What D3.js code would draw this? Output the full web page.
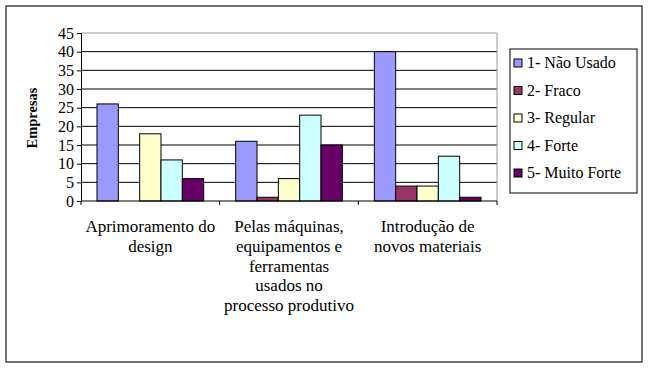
<!DOCTYPE html>
<html><head><meta charset="utf-8">
<script src="https://cdn.jsdelivr.net/npm/d3@7"></script>
</head><body style="margin:0"><svg id="c" width="650" height="370"></svg>
<script>
const categories = [["Aprimoramento do","design"],["Pelas máquinas,","equipamentos e","ferramentas","usados no","processo produtivo"],["Introdução de","novos materiais"]];
const seriesNames = ["1- Não Usado","2- Fraco","3- Regular","4- Forte","5- Muito Forte"];
const seriesColors = ["#9999FF","#993366","#FFFFCC","#CCFFFF","#660066"];
const naoUsado = [26,16,40];
const fraco = [0,1,4];
const regular = [18,6,4];
const forte = [11,23,12];
const muitoForte = [6,15,1];
const values = [naoUsado,fraco,regular,forte,muitoForte];
const yTicks = [0,5,10,15,20,25,30,35,40,45];
const yLabel = "Empresas";

const svg = d3.select("#c");
svg.append("rect").attr("x",6).attr("y",6).attr("width",636).attr("height",356).attr("fill","#fff").attr("stroke","#444").attr("stroke-width",1.5);

const L=81,R=497,T=33,B=201;
const x0 = d3.scaleBand().domain(d3.range(categories.length)).range([L,R]).paddingInner(0).paddingOuter(0);
const x1 = d3.scaleBand().domain(d3.range(seriesNames.length)).range([0,x0.bandwidth()]).paddingInner(0).paddingOuter(0.75);
const y = d3.scaleLinear().domain([0,45]).range([B,T]);

svg.append("g").selectAll("line").data(yTicks.filter(t=>t>0 && t<45)).join("line")
 .attr("x1",L).attr("x2",R).attr("y1",d=>y(d)).attr("y2",d=>y(d)).attr("stroke","#000").attr("stroke-width",1);
svg.append("path").attr("d",`M${L},${y(45)}H${R}V${B}`).attr("fill","none").attr("stroke","#999").attr("stroke-width",1);

const g = svg.append("g");
values.forEach((arr,si)=>{
  g.selectAll(null).data(arr).join("rect")
   .attr("x",(d,ci)=>x0(ci)+x1(si)).attr("width",x1.bandwidth())
   .attr("y",d=>y(d)).attr("height",d=>B-y(d))
   .attr("fill",seriesColors[si]).attr("stroke","#000").attr("stroke-width",1);
});

const ya = svg.append("g").attr("transform",`translate(${L},0)`).call(d3.axisLeft(y).tickValues(yTicks).tickSize(4).tickPadding(3));
ya.attr("font-family","Liberation Serif").attr("font-size",16);
ya.select(".domain").attr("stroke","#000");
ya.selectAll("line").attr("stroke","#000");
ya.selectAll("text").attr("fill","#000").attr("font-family","Liberation Serif").attr("font-size",16);

svg.append("line").attr("x1",L).attr("x2",R).attr("y1",B).attr("y2",B).attr("stroke","#000");
svg.append("g").selectAll("line").data(d3.range(categories.length+1)).join("line")
 .attr("x1",i=>L+i*x0.bandwidth()).attr("x2",i=>L+i*x0.bandwidth()).attr("y1",B).attr("y2",B+4).attr("stroke","#000");
categories.forEach((lines,ci)=>{
  const t = svg.append("text").attr("text-anchor","middle").attr("font-family","Liberation Serif").attr("font-size",17).attr("x",x0(ci)+x0.bandwidth()/2).attr("y",232);
  lines.forEach((ln,li)=>t.append("tspan").attr("x",x0(ci)+x0.bandwidth()/2).attr("dy",li?19.8:0).text(ln));
});

svg.append("text").attr("transform","translate(37,118) rotate(-90)").attr("text-anchor","middle").attr("font-family","Liberation Serif").attr("font-size",14.5).attr("font-weight","bold").text(yLabel);

svg.append("rect").attr("x",510).attr("y",49).attr("width",127).attr("height",144).attr("fill","#fff").attr("stroke","#000");
seriesNames.forEach((n,i)=>{
  const cy = 63 + i*27.5;
  svg.append("rect").attr("x",514).attr("y",cy-4).attr("width",8).attr("height",8).attr("fill",seriesColors[i]).attr("stroke","#000");
  svg.append("text").attr("x",527).attr("y",cy+5).attr("font-family","Liberation Serif").attr("font-size",16).text(n);
});
</script></body></html>
